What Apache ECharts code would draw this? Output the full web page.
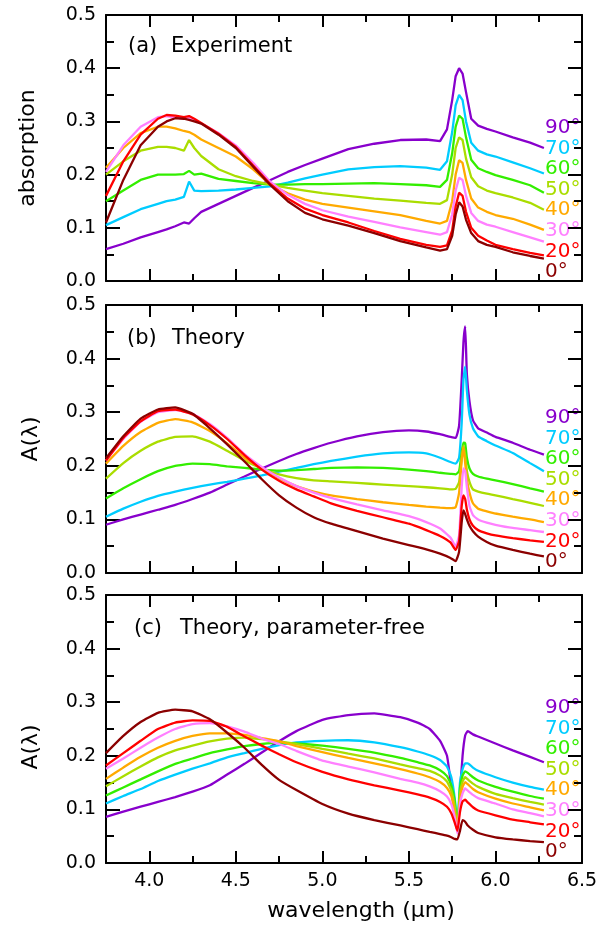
<!DOCTYPE html>
<html><head><meta charset="utf-8">
<script src="https://cdn.jsdelivr.net/npm/echarts@6/dist/echarts.min.js"></script>
<style>html,body{margin:0;padding:0;background:#fff}#c{width:615px;height:928px}</style>
</head><body><div id="c"></div>
<script>
// ---------- data ----------
const angleLabels = ['0°','20°','30°','40°','50°','60°','70°','90°'];
const xMajorTicks = [4.0, 4.5, 5.0, 5.5, 6.0, 6.5];
const xMinorTicks = [4.25, 4.75, 5.25, 5.75, 6.25];
const panelTitles = [['(a)','Experiment'],['(b)','Theory'],['(c)','Theory, parameter-free']];
const yTitles = ['absorption','A(λ)','A(λ)'];
const xTitle = 'wavelength (µm)';

// (a) Experiment
const wavelengthA = [3.75,3.85,3.95,4.05,4.1,4.15,4.2,4.23,4.26,4.3,4.4,4.5,4.6,4.7,4.8,4.9,5.0,5.15,5.3,5.45,5.6,5.68,5.72,5.75,5.77,5.79,5.81,5.83,5.86,5.9,5.95,6.0,6.1,6.2,6.28];
const exp0  = [0.11,0.19,0.255,0.29,0.30,0.306,0.305,0.303,0.30,0.296,0.275,0.25,0.215,0.18,0.15,0.128,0.116,0.104,0.09,0.075,0.063,0.057,0.06,0.085,0.125,0.148,0.14,0.115,0.09,0.075,0.068,0.064,0.054,0.047,0.042];
const exp20 = [0.16,0.225,0.275,0.305,0.312,0.311,0.308,0.31,0.305,0.297,0.277,0.252,0.217,0.182,0.155,0.136,0.124,0.11,0.094,0.079,0.068,0.064,0.067,0.095,0.14,0.166,0.16,0.13,0.1,0.085,0.076,0.068,0.06,0.053,0.048];
const exp30 = [0.205,0.255,0.29,0.308,0.31,0.307,0.305,0.306,0.302,0.296,0.278,0.255,0.222,0.186,0.162,0.145,0.133,0.121,0.111,0.101,0.092,0.087,0.092,0.125,0.17,0.194,0.19,0.16,0.128,0.113,0.106,0.102,0.092,0.082,0.074];
const exp40 = [0.213,0.25,0.278,0.29,0.29,0.287,0.282,0.28,0.275,0.266,0.25,0.234,0.21,0.181,0.165,0.153,0.145,0.138,0.131,0.124,0.113,0.108,0.113,0.15,0.2,0.227,0.222,0.19,0.155,0.138,0.13,0.124,0.117,0.106,0.096];
const exp50 = [0.20,0.225,0.245,0.252,0.252,0.25,0.245,0.265,0.25,0.235,0.21,0.197,0.188,0.181,0.175,0.17,0.165,0.16,0.155,0.151,0.147,0.145,0.152,0.2,0.25,0.27,0.265,0.23,0.195,0.178,0.17,0.165,0.157,0.147,0.134];
const exp60 = [0.15,0.17,0.19,0.2,0.2,0.2,0.201,0.207,0.2,0.202,0.192,0.188,0.184,0.181,0.181,0.182,0.182,0.183,0.184,0.182,0.18,0.177,0.19,0.24,0.29,0.311,0.305,0.27,0.228,0.212,0.205,0.199,0.19,0.18,0.166];
const exp70 = [0.105,0.12,0.135,0.145,0.15,0.153,0.158,0.187,0.17,0.169,0.17,0.172,0.175,0.178,0.185,0.193,0.2,0.21,0.214,0.216,0.213,0.209,0.225,0.28,0.33,0.35,0.34,0.3,0.26,0.245,0.238,0.234,0.223,0.212,0.202];
const exp90 = [0.06,0.07,0.082,0.092,0.097,0.103,0.11,0.108,0.118,0.13,0.145,0.16,0.175,0.19,0.205,0.218,0.23,0.248,0.258,0.265,0.266,0.263,0.285,0.34,0.385,0.4,0.39,0.355,0.305,0.292,0.286,0.281,0.27,0.26,0.25];

// (b) Theory
const wavelengthB = [3.75,3.85,3.95,4.05,4.15,4.25,4.35,4.45,4.55,4.65,4.75,4.85,4.95,5.05,5.2,5.35,5.5,5.6,5.68,5.74,5.77,5.79,5.805,5.815,5.825,5.835,5.85,5.87,5.9,5.95,6.0,6.1,6.2,6.28];
const th0  = [0.214,0.255,0.288,0.305,0.309,0.297,0.27,0.24,0.208,0.175,0.145,0.122,0.104,0.092,0.078,0.064,0.052,0.044,0.036,0.028,0.022,0.04,0.095,0.117,0.11,0.1,0.088,0.078,0.068,0.058,0.051,0.043,0.036,0.031];
const th20 = [0.21,0.252,0.283,0.302,0.305,0.296,0.276,0.25,0.22,0.193,0.172,0.156,0.143,0.13,0.116,0.104,0.092,0.08,0.069,0.057,0.043,0.06,0.125,0.145,0.138,0.118,0.1,0.088,0.08,0.074,0.07,0.065,0.061,0.058];
const th30 = [0.21,0.25,0.282,0.3,0.304,0.297,0.278,0.252,0.222,0.198,0.178,0.162,0.15,0.14,0.128,0.117,0.106,0.095,0.083,0.066,0.05,0.07,0.16,0.195,0.19,0.16,0.125,0.108,0.1,0.094,0.09,0.084,0.08,0.0765];
const th40 = [0.204,0.237,0.263,0.28,0.287,0.281,0.265,0.242,0.215,0.195,0.177,0.162,0.152,0.145,0.138,0.132,0.127,0.124,0.122,0.121,0.123,0.15,0.21,0.235,0.205,0.175,0.15,0.13,0.12,0.115,0.111,0.105,0.1,0.095];
const th50 = [0.176,0.205,0.228,0.245,0.254,0.255,0.245,0.228,0.21,0.195,0.184,0.177,0.173,0.171,0.168,0.165,0.162,0.16,0.158,0.156,0.157,0.17,0.215,0.238,0.22,0.19,0.17,0.156,0.152,0.148,0.145,0.138,0.131,0.125];
const th60 = [0.139,0.158,0.175,0.19,0.2,0.204,0.203,0.199,0.196,0.193,0.191,0.192,0.194,0.196,0.197,0.196,0.193,0.19,0.187,0.185,0.184,0.19,0.225,0.243,0.242,0.215,0.195,0.185,0.18,0.176,0.173,0.166,0.158,0.152];
const th70 = [0.105,0.12,0.133,0.144,0.152,0.159,0.165,0.17,0.176,0.182,0.189,0.196,0.203,0.209,0.217,0.223,0.225,0.223,0.215,0.207,0.204,0.215,0.28,0.36,0.385,0.34,0.295,0.27,0.255,0.246,0.238,0.224,0.205,0.19];
const th90 = [0.09,0.1,0.109,0.118,0.127,0.138,0.15,0.165,0.18,0.195,0.209,0.222,0.233,0.243,0.255,0.263,0.266,0.264,0.259,0.254,0.252,0.275,0.36,0.43,0.46,0.37,0.32,0.285,0.27,0.262,0.254,0.243,0.23,0.221];

// (c) Theory, parameter-free
const wavelengthC = [3.75,3.85,3.95,4.05,4.15,4.25,4.35,4.45,4.55,4.65,4.75,4.85,5.0,5.15,5.3,5.45,5.55,5.62,5.68,5.72,5.745,5.765,5.78,5.795,5.81,5.825,5.84,5.87,5.9,6.0,6.1,6.2,6.28];
const pf0  = [0.205,0.237,0.263,0.28,0.286,0.283,0.268,0.243,0.215,0.183,0.155,0.136,0.11,0.092,0.08,0.07,0.063,0.058,0.054,0.051,0.048,0.045,0.044,0.06,0.08,0.077,0.07,0.062,0.056,0.048,0.044,0.041,0.039];
const pf20 = [0.182,0.205,0.228,0.25,0.262,0.266,0.265,0.254,0.236,0.219,0.203,0.188,0.17,0.156,0.145,0.135,0.128,0.122,0.114,0.105,0.093,0.075,0.06,0.095,0.115,0.118,0.113,0.104,0.098,0.089,0.081,0.076,0.072];
const pf30 = [0.176,0.195,0.215,0.234,0.25,0.259,0.261,0.255,0.245,0.232,0.222,0.209,0.191,0.18,0.169,0.157,0.15,0.143,0.134,0.124,0.11,0.085,0.055,0.11,0.13,0.139,0.135,0.127,0.121,0.111,0.1,0.093,0.087];
const pf40 = [0.157,0.178,0.198,0.215,0.228,0.237,0.242,0.242,0.239,0.233,0.227,0.218,0.207,0.196,0.186,0.175,0.167,0.16,0.151,0.14,0.125,0.095,0.058,0.12,0.142,0.151,0.147,0.138,0.132,0.12,0.111,0.104,0.098];
const pf50 = [0.143,0.162,0.18,0.197,0.21,0.219,0.227,0.232,0.234,0.231,0.227,0.222,0.213,0.204,0.195,0.184,0.177,0.172,0.163,0.152,0.135,0.105,0.061,0.13,0.152,0.16,0.156,0.148,0.142,0.129,0.121,0.114,0.109];
const pf60 = [0.126,0.141,0.156,0.171,0.185,0.195,0.205,0.212,0.218,0.222,0.224,0.223,0.219,0.213,0.206,0.196,0.188,0.182,0.173,0.162,0.145,0.115,0.065,0.14,0.163,0.171,0.168,0.16,0.154,0.142,0.133,0.125,0.12];
const pf70 = [0.111,0.125,0.138,0.153,0.165,0.176,0.186,0.197,0.205,0.213,0.22,0.225,0.228,0.229,0.225,0.216,0.208,0.201,0.192,0.18,0.16,0.12,0.07,0.15,0.175,0.186,0.186,0.178,0.172,0.16,0.15,0.142,0.137];
const pf90 = [0.086,0.096,0.105,0.114,0.123,0.133,0.145,0.165,0.185,0.206,0.227,0.246,0.267,0.276,0.279,0.272,0.262,0.25,0.228,0.2,0.14,0.09,0.058,0.13,0.2,0.238,0.246,0.24,0.236,0.223,0.21,0.198,0.188];

// ---------- styling ----------
const colors = ['#8b0000','#ff0000','#ff80ff','#ffaa00','#aadd00','#33ee00','#00ccff','#8800cc'];
const FONT = 'DejaVu Sans';
const panels = [
  {top:15, height:266, xs:wavelengthA, ys:[exp0,exp20,exp30,exp40,exp50,exp60,exp70,exp90], smooth:false},
  {top:305, height:268, xs:wavelengthB, ys:[th0,th20,th30,th40,th50,th60,th70,th90], smooth:0.15},
  {top:595, height:268, xs:wavelengthC, ys:[pf0,pf20,pf30,pf40,pf50,pf60,pf70,pf90], smooth:0.15}
];
const LEFT = 106, WIDTH = 476;
const black = {color:'#000', width:2};

const grid = [], xAxis = [], yAxis = [], series = [], graphic = [];
panels.forEach(p=>{ grid.push({left:LEFT, width:WIDTH, top:p.top, height:p.height}); });
panels.forEach(p=>{ grid.push({left:LEFT, width:WIDTH, top:p.top, height:p.height}); });

panels.forEach((p,i)=>{
  const base = {type:'value', gridIndex:i, min:3.75, max:6.5, splitLine:{show:false}};
  xAxis.push(Object.assign({}, base, {position:'bottom',
    axisLine:{show:true, onZero:false, lineStyle:black},
    axisTick:{show:true, inside:true, length:12, customValues:xMajorTicks, lineStyle:black},
    axisLabel:{show:i===2, customValues:xMajorTicks, formatter:v=>Number(v).toFixed(1), fontFamily:FONT, fontSize:19, color:'#000', margin:9}}));
  xAxis.push(Object.assign({}, base, {position:'top',
    axisLine:{show:true, onZero:false, lineStyle:black},
    axisTick:{show:true, inside:true, length:12, customValues:xMajorTicks, lineStyle:black},
    axisLabel:{show:false}}));
  const yBase = {type:'value', gridIndex:i, min:0, max:0.5, interval:0.1, splitLine:{show:false},
    axisLine:{show:true, onZero:false, lineStyle:black},
    axisTick:{show:true, inside:true, length:14, lineStyle:black},
    minorTick:{show:true, splitNumber:2, length:8, lineStyle:black}};
  yAxis.push(Object.assign({}, yBase, {position:'left',
    axisLabel:{formatter:v=>Number(v).toFixed(1), fontFamily:FONT, fontSize:19, color:'#000', margin:10}}));
  yAxis.push(Object.assign({}, yBase, {position:'right', axisLabel:{show:false}}));
});
panels.forEach((p,i)=>{
  const base = {type:'value', gridIndex:3+i, min:3.75, max:6.5, splitLine:{show:false}, axisLine:{show:false}, axisLabel:{show:false}};
  xAxis.push(Object.assign({}, base, {position:'bottom', axisTick:{show:true, inside:true, length:7, customValues:xMinorTicks, lineStyle:black}}));
  xAxis.push(Object.assign({}, base, {position:'top', axisTick:{show:true, inside:true, length:7, customValues:xMinorTicks, lineStyle:black}}));
  yAxis.push({type:'value', gridIndex:3+i, min:0, max:0.5, show:false});
});

panels.forEach((p,i)=>{
  for (let k = p.ys.length-1; k >= 0; k--) {
    series.push({type:'line', name:angleLabels[k], xAxisIndex:2*i, yAxisIndex:2*i,
      data:p.xs.map((x,j)=>[x, p.ys[k][j]]), showSymbol:false, symbol:'none', smooth:p.smooth,
      lineStyle:{color:colors[k], width:2.3}, silent:true});
  }
  angleLabels.forEach((lab,k)=>{
    graphic.push({type:'text', x:545, y:p.top + 257 - k*20.6,
      style:{text:lab, fill:colors[k], font:'20px "DejaVu Sans"', align:'left', verticalAlign:'middle'}});
  });
});

// panel titles
const titlePos = [[128,171,47],[127,172,339],[134,180,629]];
panelTitles.forEach((t,i)=>{
  graphic.push({type:'text', x:titlePos[i][0], y:titlePos[i][2], style:{text:t[0], fill:'#000', font:'21px "DejaVu Sans"', align:'left', verticalAlign:'middle'}});
  graphic.push({type:'text', x:titlePos[i][1], y:titlePos[i][2], style:{text:t[1], fill:'#000', font:'21px "DejaVu Sans"', align:'left', verticalAlign:'middle'}});
});
// y titles
const yTitlePos = [[28,148],[31,439],[31,747]];
yTitles.forEach((t,i)=>{
  graphic.push({type:'text', x:yTitlePos[i][0], y:yTitlePos[i][1], rotation:Math.PI/2,
    style:{text:t, fill:'#000', font:'22px "DejaVu Sans"', align:'center', verticalAlign:'middle'}});
});
graphic.push({type:'text', x:361, y:911, style:{text:xTitle, fill:'#000', font:'22px "DejaVu Sans"', align:'center', verticalAlign:'middle'}});

const chart = echarts.init(document.getElementById('c'), null, {renderer:'canvas'});
chart.setOption({animation:false, backgroundColor:'#fff', grid, xAxis, yAxis, series, graphic});
</script>
</body></html>
